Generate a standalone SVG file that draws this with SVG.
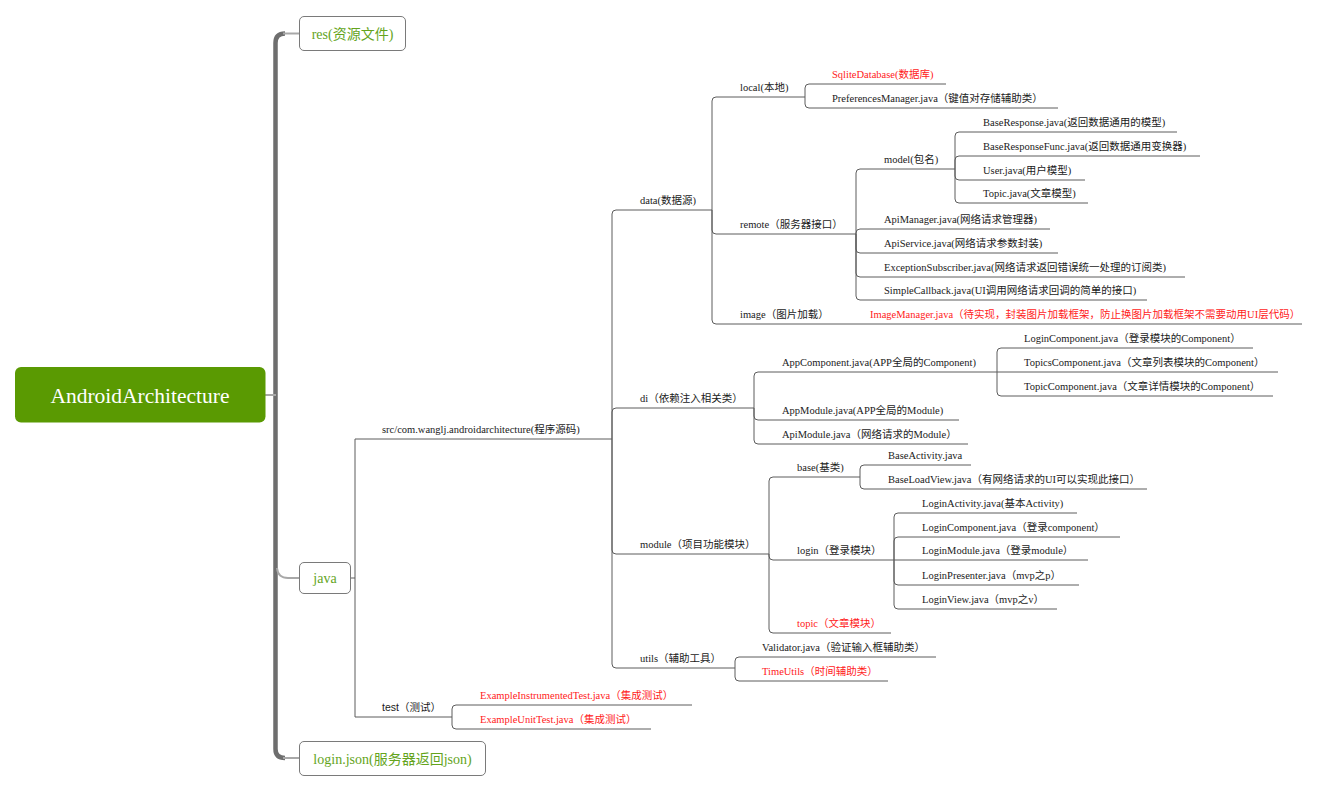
<svg xmlns="http://www.w3.org/2000/svg" width="1318" height="792" viewBox="0 0 1318 792">
<style>
.t{font-family:"Liberation Serif","Noto Sans CJK SC",serif;font-size:10.5px;fill:#1a1a1a}
.s{font-family:"Liberation Sans","Noto Sans CJK SC",sans-serif;font-size:10.5px;fill:#1a1a1a}
.red{fill:#ff1a1a}
.c{fill:none;stroke:#5c5c5c;stroke-width:1}
.box{fill:#fff;stroke:#7a7a7a;stroke-width:1}
.bt{font-family:"Liberation Serif","Noto Sans CJK SC",serif;font-size:14px;fill:#64a41c;text-anchor:middle}
.trunk{fill:none;stroke:#6e6e6e;stroke-width:4.5}
.br{fill:none;stroke:#a8a8a8;stroke-width:2}
</style>
<rect width="1318" height="792" fill="#fff"/>
<g id="connectors">
<path class="trunk" d="M285 33.5 Q275.5 33.5 275.5 43 L275.5 749 Q275.5 758 285 758"/>
<path class="br" d="M283 33.5 H299"/>
<path class="br" d="M283 758 H299"/>
<path class="br" d="M277 568 Q278 578 288 578 H299"/>
<path class="br" d="M265 395 H276"/>
<path class="c" d="M350.5 578 H355 M355 578 V439 H612 M355 578 V717 H452"/>
<path class="c" d="M612 439 V214 Q612 210 616 210 H712 M612 439 V412 Q612 408 616 408 H754 M612 439 V550 Q612 554 616 554 H769 M612 439 V664 Q612 668 616 668 H735"/>
<path class="c" d="M712 210 V101 Q712 97 716 97 H805 M712 210 V230 Q712 234 716 234 H856 M712 210 V320 Q712 324 716 324 H1302"/>
<path class="c" d="M805 97 V88 Q805 84 809 84 H946 M805 97 V104 Q805 108 809 108 H1058"/>
<path class="c" d="M856 234 V173 Q856 169 860 169 H955 M856 234 V233 Q856 229 860 229 H1050 M856 234 V249 Q856 253 860 253 H1058 M856 234 V273 Q856 277 860 277 H1185 M856 234 V296 Q856 300 860 300 H1147"/>
<path class="c" d="M955 169 V136 Q955 132 959 132 H1177 M955 169 V160 Q955 156 959 156 H1200 M955 169 V176 Q955 180 959 180 H1085 M955 169 V199 Q955 203 959 203 H1088"/>
<path class="c" d="M754 408 V376 Q754 372 758 372 H997 M754 408 V416 Q754 420 758 420 H959 M754 408 V440 Q754 444 758 444 H968"/>
<path class="c" d="M997 372 V352 Q997 348 1001 348 H1253 M997 372 H1278 M997 372 V392 Q997 396 1001 396 H1273"/>
<path class="c" d="M769 554 V481 Q769 477 773 477 H860 M769 554 V556 Q769 560 773 560 H894 M769 554 V629 Q769 633 773 633 H891"/>
<path class="c" d="M860 477 V469 Q860 465 864 465 H971 M860 477 V485 Q860 489 864 489 H1147"/>
<path class="c" d="M894 560 V517 Q894 513 898 513 H1077 M894 560 V541 Q894 537 898 537 H1120 M894 560 H1088 M894 560 V581 Q894 585 898 585 H1079 M894 560 V605 Q894 609 898 609 H1057"/>
<path class="c" d="M735 668 V661 Q735 657 739 657 H936 M735 668 V677 Q735 681 739 681 H888"/>
<path class="c" d="M452 717 V709 Q452 705 456 705 H692 M452 717 V725 Q452 729 456 729 H651"/>
</g>
<g id="root">
<rect x="15" y="367" width="250.5" height="55.5" rx="6" fill="#5a9a02"/>
<text x="140" y="403" font-family="Liberation Serif, serif" font-size="21.5" fill="#fff" text-anchor="middle">AndroidArchitecture</text>
</g>
<g id="res"><rect class="box" x="299.5" y="16.5" width="106" height="34" rx="4.5"/><text class="bt" x="352.5" y="39">res(资源文件)</text></g>
<g id="java"><rect class="box" x="299.5" y="562.5" width="51" height="31" rx="4.5"/><text class="bt" x="325" y="583">java</text></g>
<g id="loginjson"><rect class="box" x="299.5" y="741.5" width="186" height="34" rx="4.5"/><text class="bt" x="392.5" y="764">login.json(服务器返回json)</text></g>
<g id="src"><text class="t" x="382" y="433">src/com.wanglj.androidarchitecture(程序源码)</text></g>
<g id="test"><text class="s" x="382" y="711">test（测试）</text></g>
<g id="data"><text class="t" x="640" y="204">data(数据源)</text></g>
<g id="di"><text class="t" x="640" y="402">di（依赖注入相关类）</text></g>
<g id="module"><text class="t" x="640" y="548">module（项目功能模块）</text></g>
<g id="utils"><text class="t" x="640" y="662">utils（辅助工具）</text></g>
<g id="local"><text class="t" x="740" y="91">local(本地)</text></g>
<g id="remote"><text class="t" x="740" y="228">remote（服务器接口）</text></g>
<g id="image"><text class="t" x="740" y="318">image（图片加载）</text></g>
<g id="imagemanager"><text class="t red" x="870" y="318">ImageManager.java（待实现，封装图片加载框架，防止换图片加载框架不需要动用UI层代码）</text></g>
<g id="sqlite"><text class="t red" x="832" y="78">SqliteDatabase(数据库)</text></g>
<g id="prefs"><text class="t" x="832" y="102">PreferencesManager.java（键值对存储辅助类）</text></g>
<g id="model"><text class="t" x="884" y="163">model(包名)</text></g>
<g id="apimanager"><text class="t" x="884" y="223">ApiManager.java(网络请求管理器)</text></g>
<g id="apiservice"><text class="t" x="884" y="247">ApiService.java(网络请求参数封装)</text></g>
<g id="exsub"><text class="t" x="884" y="271">ExceptionSubscriber.java(网络请求返回错误统一处理的订阅类)</text></g>
<g id="simplecb"><text class="t" x="884" y="294">SimpleCallback.java(UI调用网络请求回调的简单的接口)</text></g>
<g id="baseresp"><text class="t" x="983" y="126">BaseResponse.java(返回数据通用的模型)</text></g>
<g id="baserespfunc"><text class="t" x="983" y="150">BaseResponseFunc.java(返回数据通用变换器)</text></g>
<g id="user"><text class="t" x="983" y="174">User.java(用户模型)</text></g>
<g id="topicjava"><text class="t" x="983" y="197">Topic.java(文章模型)</text></g>
<g id="appcomp"><text class="t" x="782" y="366">AppComponent.java(APP全局的Component)</text></g>
<g id="appmodule"><text class="t" x="782" y="414">AppModule.java(APP全局的Module)</text></g>
<g id="apimodule"><text class="t" x="782" y="438">ApiModule.java（网络请求的Module）</text></g>
<g id="logincomp1"><text class="t" x="1024" y="342">LoginComponent.java（登录模块的Component）</text></g>
<g id="topicscomp"><text class="t" x="1024" y="366">TopicsComponent.java（文章列表模块的Component）</text></g>
<g id="topiccomp"><text class="t" x="1024" y="390">TopicComponent.java（文章详情模块的Component）</text></g>
<g id="base"><text class="t" x="797" y="471">base(基类)</text></g>
<g id="login"><text class="t" x="797" y="554">login（登录模块）</text></g>
<g id="topic"><text class="t red" x="797" y="627">topic（文章模块）</text></g>
<g id="baseactivity"><text class="t" x="888" y="459">BaseActivity.java</text></g>
<g id="baseloadview"><text class="t" x="888" y="483">BaseLoadView.java（有网络请求的UI可以实现此接口）</text></g>
<g id="loginactivity"><text class="t" x="922" y="507">LoginActivity.java(基本Activity)</text></g>
<g id="logincomp2"><text class="t" x="922" y="531">LoginComponent.java（登录component）</text></g>
<g id="loginmodule"><text class="t" x="922" y="554">LoginModule.java（登录module）</text></g>
<g id="loginpresenter"><text class="t" x="922" y="579">LoginPresenter.java（mvp之p）</text></g>
<g id="loginview"><text class="t" x="922" y="603">LoginView.java（mvp之v）</text></g>
<g id="validator"><text class="t" x="762" y="651">Validator.java（验证输入框辅助类）</text></g>
<g id="timeutils"><text class="t red" x="762" y="675">TimeUtils（时间辅助类）</text></g>
<g id="instrtest"><text class="t red" x="480" y="699">ExampleInstrumentedTest.java（集成测试）</text></g>
<g id="unittest"><text class="t red" x="480" y="723">ExampleUnitTest.java（集成测试）</text></g>
</svg>
